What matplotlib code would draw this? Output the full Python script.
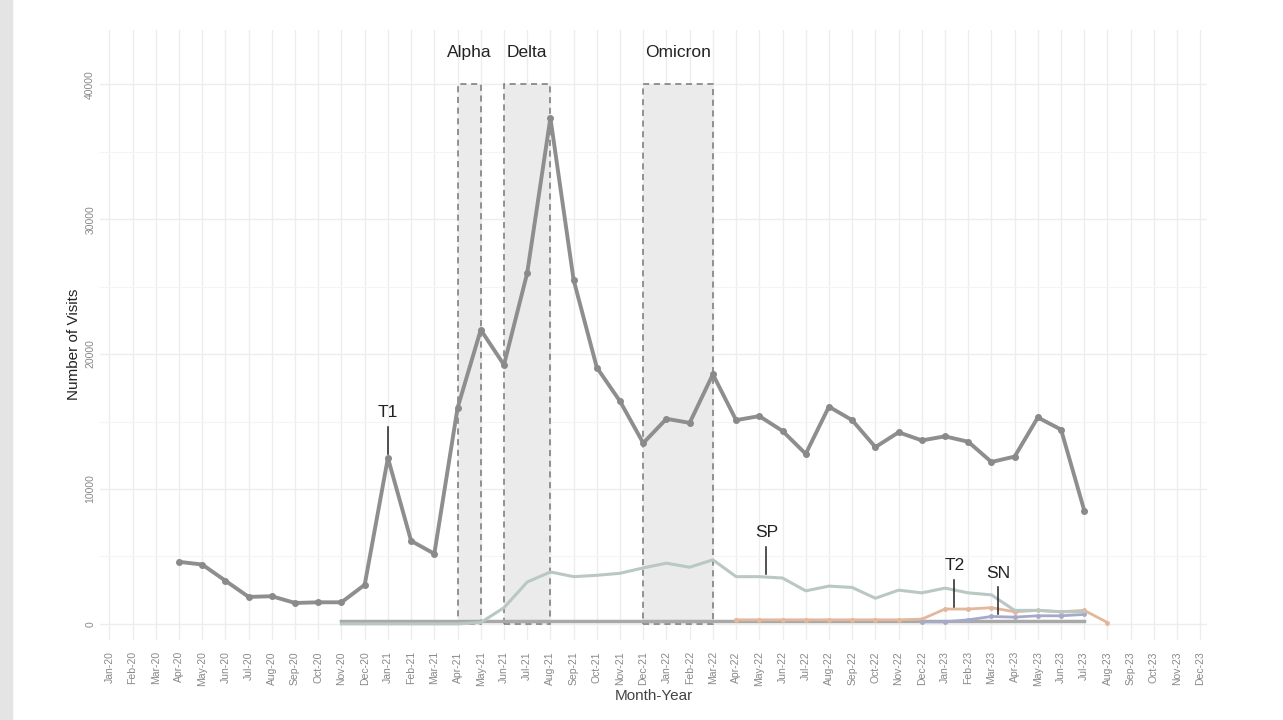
import numpy as np
import pandas as pd
import matplotlib.pyplot as plt
import matplotlib.patches as mpatches

plt.rcParams['font.family'] = ['Liberation Sans', 'DejaVu Sans']

# Month labels Jan-20 .. Dec-23
months = pd.date_range('2020-01-01', '2023-12-01', freq='MS').strftime('%b-%y').tolist()

# Total visits, Apr-20 .. Jul-23
total_start = 'Apr-20'
total = [4600, 4400, 3200, 2000, 2050, 1550, 1600, 1600, 2900, 12300,
         6150, 5200, 16000, 21800, 19200, 26000, 37500, 25500, 19000, 16500,
         13400, 15200, 14900, 18500, 15100, 15400, 14300, 12600, 16100, 15100,
         13100, 14200, 13600, 13900, 13500, 12000, 12400, 15300, 14400, 8400]

# SP, Nov-20 .. Jul-23
sp_start = 'Nov-20'
sp = [0, 0, 0, 0, 0, 0, 100, 1200, 3100, 3850,
      3500, 3600, 3750, 4150, 4500, 4200, 4750, 3500, 3500, 3400,
      2450, 2800, 2700, 1900, 2500, 2300, 2650, 2300, 2150, 1000,
      1000, 900, 900]

# T1 baseline, Nov-20 .. Jul-23
t1_start = 'Nov-20'
t1 = [200] * 33

# T2, Apr-22 .. Aug-23
t2_start = 'Apr-22'
t2 = [300, 300, 300, 300, 300, 300, 300, 300, 350, 1100,
      1100, 1200, 900, 1000, 900, 1000, 100]

# SN, Dec-22 .. Jul-23
sn_start = 'Dec-22'
sn = [150, 150, 300, 550, 500, 600, 600, 700]

# Variant waves (start month, end month, label)
waves = [('Apr-21', 'May-21', 'Alpha'), ('Jun-21', 'Aug-21', 'Delta'), ('Dec-21', 'Mar-22', 'Omicron')]

# Event markers (month, offset, y tip, label)
events = [('Jan-21', 0.0, 12600, 'T1'), ('May-22', 0.3, 3700, 'SP'),
          ('Jan-23', 0.4, 1250, 'T2'), ('Mar-23', 0.3, 700, 'SN')]


def xs(start, vals):
    i0 = months.index(start)
    return np.arange(i0, i0 + len(vals))


fig = plt.figure(figsize=(12.83, 7.2), dpi=100)
fig.patches.append(mpatches.Rectangle((0, 0), 12 / 1283, 1, transform=fig.transFigure,
                                      color='#e4e4e4', zorder=0))
ax = fig.add_axes([0.078, 0.111, 0.863, 0.847])

# grid
ax.set_yticks([0, 10000, 20000, 30000, 40000])
ax.set_yticks([5000, 15000, 25000, 35000], minor=True)
ax.grid(True, which='major', color='#ededed', lw=1.0)
ax.grid(True, which='minor', axis='y', color='#f4f4f4', lw=0.8)
ax.set_axisbelow(True)

for s, e, lab in waves:
    x0, x1 = months.index(s), months.index(e)
    ax.add_patch(mpatches.Rectangle((x0, 0), x1 - x0, 40000, facecolor='#ebebeb',
                                    edgecolor='#777777', ls=(0, (4, 3)), lw=1.1, zorder=1))
    ax.text((x0 + x1) / 2, 41800, lab, ha='center', va='bottom', fontsize=12.5, color='#222222')

ax.plot(xs(t1_start, t1), t1, color='#a9a9a9', lw=2.5, zorder=2)
ax.plot(xs(t2_start, t2), t2, color='#e3b79b', lw=2, marker='o', ms=2.5, zorder=3)
ax.plot(xs(sn_start, sn), sn, color='#a7a9c9', lw=2, marker='o', ms=2.5, zorder=3)
ax.plot(xs(sp_start, sp), sp, color='#b9c7c5', lw=2.2, zorder=3)
ax.plot(xs(total_start, total), total, color='#8e8e8e', lw=2.8, marker='o', ms=4,
        mfc='#8a8a8a', mec='#8a8a8a', zorder=4)

for m, off, ytip, lab in events:
    x = months.index(m) + off
    ax.plot([x, x], [ytip, ytip + 2000], color='#222222', lw=1.1, zorder=5)
    ax.text(x, ytip + 2500, lab, ha='center', va='bottom', fontsize=12.5, color='#222222', zorder=5)

ax.set_xticks(range(len(months)))
ax.set_xticklabels(months, rotation=90, fontsize=7.5, color='#888888')
ax.tick_params(axis='y', labelrotation=90, labelsize=7.5, labelcolor='#888888', length=0)
ax.tick_params(axis='y', which='minor', length=0)
ax.tick_params(axis='x', length=0, pad=8)
for lbl in ax.get_yticklabels():
    lbl.set_va('center')
ax.set_xlim(-0.4, 47.3)
ax.set_ylim(-1200, 44000)
for sp_ in ax.spines.values():
    sp_.set_visible(False)

ax.set_xlabel('Month-Year', fontsize=11, color='#444444', labelpad=2)
ax.set_ylabel('Number of Visits', fontsize=11, color='#222222')
ax.yaxis.set_label_coords(-0.017, 0.485)

fig.savefig('out.png', dpi=100)
